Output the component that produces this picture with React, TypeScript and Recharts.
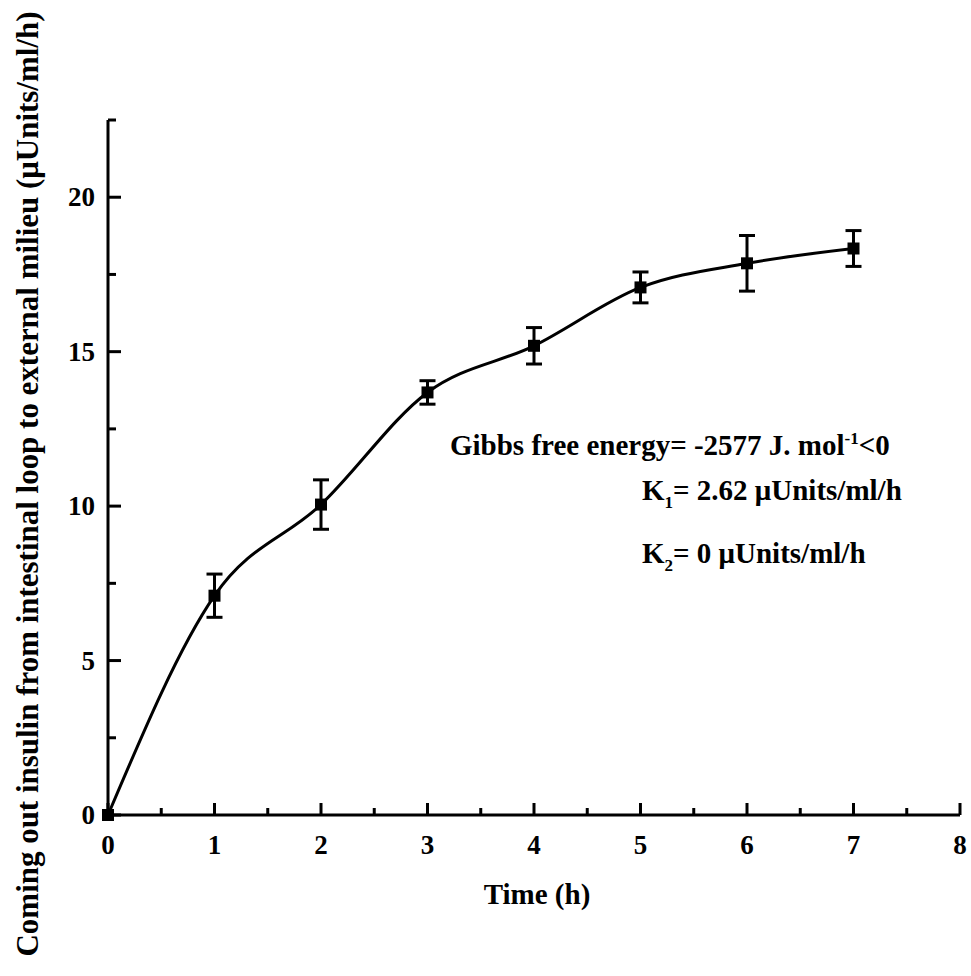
import {
  ComposedChart,
  Line,
  ErrorBar,
  XAxis,
  YAxis,
  Customized,
} from 'recharts'

// time (h)
const times = [0, 1, 2, 3, 4, 5, 6, 7]
// insulin coming out (µUnits/ml/h)
const insulin = [0, 7.1, 10.05, 13.68, 15.19, 17.08, 17.86, 18.34]
// standard deviation
const errors = [0, 0.7, 0.8, 0.38, 0.59, 0.5, 0.9, 0.58]

const xTicks = [0, 0.5, 1, 1.5, 2, 2.5, 3, 3.5, 4, 4.5, 5, 5.5, 6, 6.5, 7, 7.5, 8]
const yTicks = [0, 2.5, 5, 7.5, 10, 12.5, 15, 17.5, 20, 22.5]

const data = times.map((t, i) => ({ time: t, value: insulin[i], err: errors[i] }))

const FONT = '"Liberation Serif", "Times New Roman", serif'
const textStyle = { fontFamily: FONT, fontWeight: 'bold' as const, fill: '#000' }

const XTick = (props: any) => {
  const { x, y, payload } = props
  const major = Number.isInteger(payload.value)
  return (
    <g>
      <line x1={x} y1={y} x2={x} y2={y - (major ? 12 : 7)} stroke="#000" strokeWidth={3} />
      {major && (
        <text x={x} y={y + 39} textAnchor="middle" style={{ ...textStyle, fontSize: 27 }}>
          {payload.value}
        </text>
      )}
    </g>
  )
}

const YTick = (props: any) => {
  const { x, y, payload } = props
  const major = payload.value % 5 === 0
  return (
    <g>
      <line x1={x} y1={y} x2={x + (major ? 13 : 8)} y2={y} stroke="#000" strokeWidth={3} />
      {major && (
        <text x={x - 13} y={y + 9} textAnchor="end" style={{ ...textStyle, fontSize: 27 }}>
          {payload.value}
        </text>
      )}
    </g>
  )
}

const SquareDot = (props: any) => {
  const { cx, cy, index } = props
  return <rect key={index} x={cx - 6} y={cy - 6} width={12} height={12} fill="#000" />
}

const Texts = () => (
  <g>
    <text x={537} y={904} textAnchor="middle" style={{ ...textStyle, fontSize: 29 }}>Time (h)</text>
    <g transform="translate(38, 484) rotate(-90) scale(1, 1.15)">
      <text
        x={0}
        y={0}
        textAnchor="middle"
        style={{ ...textStyle, fontSize: 28 }}
        textLength={945}
        lengthAdjust="spacingAndGlyphs"
      >
        Coming out insulin from intestinal loop to external milieu (μUnits/ml/h)
      </text>
    </g>
    <text x={450} y={455} style={{ ...textStyle, fontSize: 29 }}>
      Gibbs free energy= -2577 J. mol
      <tspan dy={-11} style={{ fontSize: 17 }}>-1</tspan>
      <tspan dy={11}>&lt;0</tspan>
    </text>
    <text x={642} y={500} style={{ ...textStyle, fontSize: 29 }}>
      K
      <tspan dy={8} style={{ fontSize: 17 }}>1</tspan>
      <tspan dy={-8}>= 2.62 μUnits/ml/h</tspan>
    </text>
    <text x={642} y={563} style={{ ...textStyle, fontSize: 29 }}>
      K
      <tspan dy={8} style={{ fontSize: 17 }}>2</tspan>
      <tspan dy={-8}>= 0 μUnits/ml/h</tspan>
    </text>
  </g>
)

export default function App() {
  return (
    <div style={{ position: 'absolute', left: 0, top: 0, background: '#fff' }}>
      <ComposedChart
        width={971}
        height={976}
        data={data}
        margin={{ top: 120, right: 11, left: 48, bottom: 121 }}
      >
        <XAxis
          dataKey="time"
          type="number"
          domain={[0, 8]}
          ticks={xTicks}
          interval={0}
          tickSize={0}
          tickMargin={0}
          tickLine={false}
          axisLine={{ stroke: '#000', strokeWidth: 3 }}
          tick={<XTick />}
          height={40}
        />
        <YAxis
          type="number"
          domain={[0, 22.5]}
          ticks={yTicks}
          interval={0}
          tickSize={0}
          tickMargin={0}
          tickLine={false}
          axisLine={{ stroke: '#000', strokeWidth: 3 }}
          tick={<YTick />}
          width={60}
        />
        <Line
          type="monotone"
          dataKey="value"
          stroke="#000"
          strokeWidth={3}
          dot={<SquareDot />}
          activeDot={false}
          isAnimationActive={false}
        >
          <ErrorBar dataKey="err" width={8} strokeWidth={3} stroke="#000" direction="y" isAnimationActive={false} />
        </Line>
        <Customized component={Texts} />
      </ComposedChart>
    </div>
  )
}
